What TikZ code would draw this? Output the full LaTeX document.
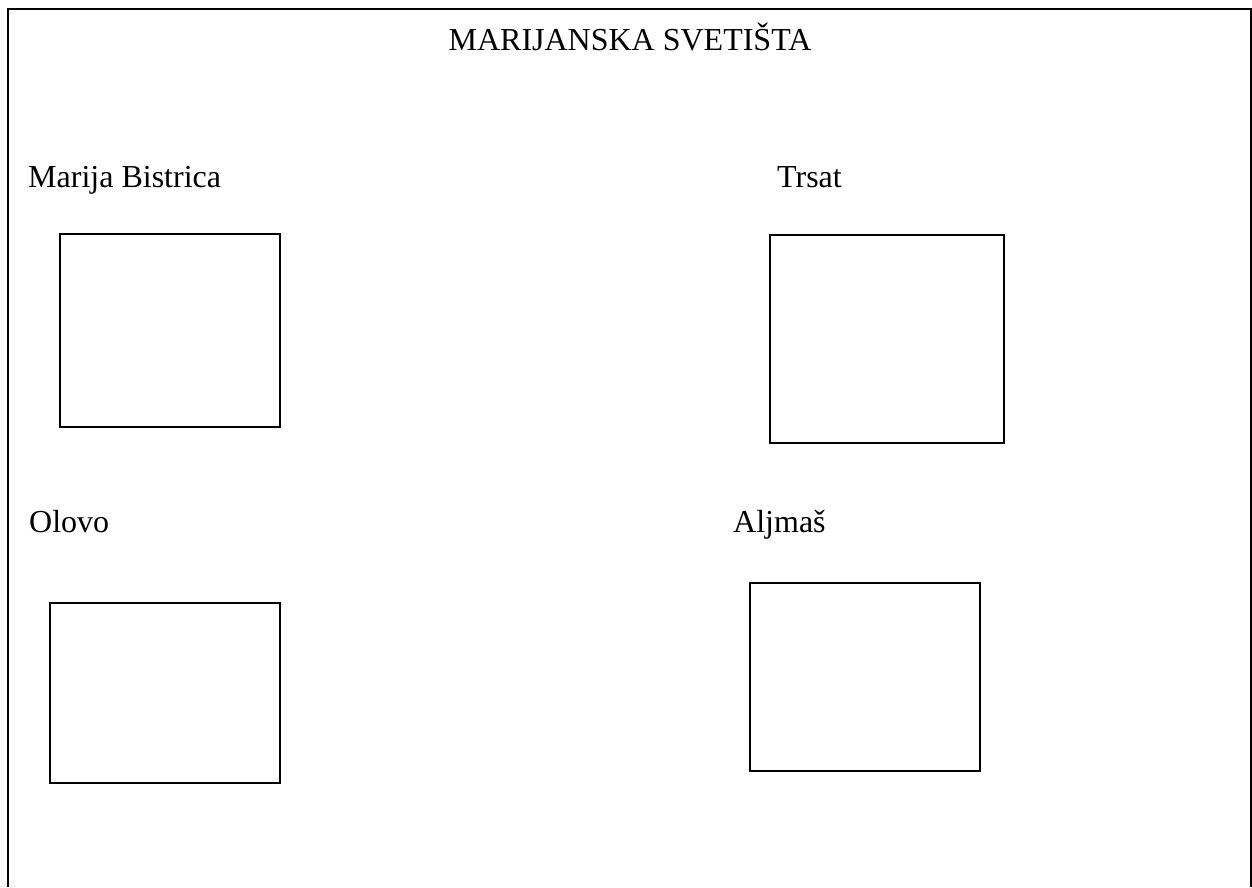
\documentclass[tikz,border=0pt]{standalone}
\usepackage{fontspec}
\setmainfont{Liberation Serif}
\usepackage{xcolor}
\usepackage{tikz}
\usetikzlibrary{positioning}

\begin{document}
\begin{tikzpicture}[x=1pt, y=-1pt,
        photobox/.style={rectangle, draw=black, line width=1.5pt, inner sep=0pt},
        place/.style={anchor=base west, inner sep=0pt, font=\fontsize{32}{38}\selectfont}]
                \useasboundingbox (0,0) rectangle (1252,887);
                % Outer frame, open at the bottom
                \draw[line width=2pt] (8,887) -- (8,9) -- (1251,9) -- (1251,887);
                % Title
                \node[anchor=base, inner sep=0pt, font=\fontsize{32}{38}\selectfont] (title) at (630, 50) {MARIJANSKA SVETIŠTA};
                % Marija Bistrica
                \node[place] (bistrica) at (28, 187) {Marija Bistrica};
                \node[photobox, minimum width=220pt, minimum height=193pt] (bistricabox) at (170, 330.5) {};
                % Trsat
                \node[place] (trsat) at (777, 187) {Trsat};
                \node[photobox, minimum width=234pt, minimum height=208pt] (trsatbox) at (887, 339) {};
                % Olovo
                \node[place] (olovo) at (29, 532) {Olovo};
                \node[photobox, minimum width=230pt, minimum height=180pt] (olovobox) at (165, 693) {};
                % Aljmas
                \node[place] (aljmas) at (733, 532) {Aljmaš};
                \node[photobox, minimum width=230pt, minimum height=188pt] (aljmasbox) at (865, 677) {};
            \end{tikzpicture}
\end{document}
